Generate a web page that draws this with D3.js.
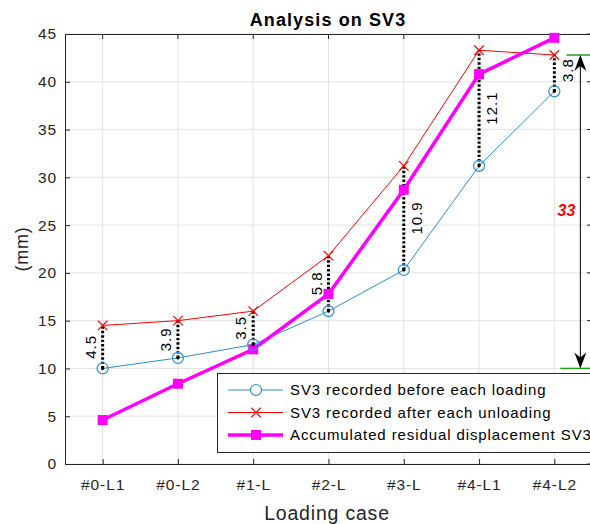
<!DOCTYPE html>
<html>
<head>
<meta charset="utf-8">
<script src="https://cdn.jsdelivr.net/npm/d3@7"></script>
<style>
  body { margin: 0; background: #fff; }
  svg text { font-family: "Liberation Sans", Arial, Helvetica, sans-serif; }
</style>
</head>
<body>
<svg id="chart" width="590" height="524"></svg>
<script>
// chart data
const categories = ["#0-L1", "#0-L2", "#1-L", "#2-L", "#3-L", "#4-L1", "#4-L2"];
const beforeLoading = [10.0, 11.1, 12.5, 16.0, 20.3, 31.2, 39.0];
const afterUnloading = [14.5, 15.0, 16.0, 21.8, 31.2, 43.3, 42.8];
const accumulated = [4.6, 8.4, 12.0, 17.8, 28.7, 40.8, 44.6];
const diffLabels = ["4.5", "3.9", "3.5", "5.8", "10.9", "12.1", "3.8"];
const yTicks = [0, 5, 10, 15, 20, 25, 30, 35, 40, 45];
const seriesNames = [
  "SV3 recorded before each loading",
  "SV3 recorded after each unloading",
  "Accumulated residual displacement SV3"
];
const spanFrom = 10, spanTo = 42.8, spanLabel = "33";

const svg = d3.select("#chart");
const margin = { top: 34, right: -2, bottom: 60, left: 65 };
const width = 590 - margin.left - margin.right;
const height = 524 - margin.top - margin.bottom;
const axisColor = "#262626";

const g = svg.append("g")
  .attr("transform", "translate(" + margin.left + "," + margin.top + ")");

const x = d3.scalePoint().domain(categories).range([0, width]).padding(0.5);
const y = d3.scaleLinear().domain([0, 45]).range([height, 0]);

// grid
g.append("g").selectAll("line").data(yTicks).enter().append("line")
  .attr("x1", 0).attr("x2", width)
  .attr("y1", d => y(d)).attr("y2", d => y(d))
  .attr("stroke", "#e3e3e3").attr("stroke-width", 1);
g.append("g").selectAll("line").data(categories).enter().append("line")
  .attr("x1", d => x(d)).attr("x2", d => x(d))
  .attr("y1", 0).attr("y2", height)
  .attr("stroke", "#e3e3e3").attr("stroke-width", 1);

// axes
const xAxis = g.append("g")
  .attr("transform", "translate(0," + height + ")")
  .call(d3.axisBottom(x).tickSizeInner(-5).tickSizeOuter(0).tickPadding(15));
const yAxis = g.append("g")
  .call(d3.axisLeft(y).tickValues(yTicks).tickSizeInner(-5).tickSizeOuter(0).tickPadding(8));
[xAxis, yAxis].forEach(a => {
  a.selectAll("path").attr("stroke", axisColor);
  a.selectAll("line").attr("stroke", axisColor);
  a.selectAll("text").attr("fill", axisColor)
    .style("font-size", "15.5px").style("letter-spacing", "0.9px");
});
// top and right ticks (box)
g.append("line").attr("x1", 0).attr("x2", width).attr("y1", 0.5).attr("y2", 0.5)
  .attr("stroke", axisColor);
g.append("line").attr("x1", width).attr("x2", width).attr("y1", 0).attr("y2", height)
  .attr("stroke", axisColor);
g.append("g").selectAll("line").data(categories).enter().append("line")
  .attr("x1", d => x(d)).attr("x2", d => x(d)).attr("y1", 0).attr("y2", 5)
  .attr("stroke", axisColor);
g.append("g").selectAll("line").data(yTicks).enter().append("line")
  .attr("x1", width - 5).attr("x2", width).attr("y1", d => y(d)).attr("y2", d => y(d))
  .attr("stroke", axisColor);

// title and axis labels
svg.append("text").attr("x", 328).attr("y", 26).attr("text-anchor", "middle")
  .style("font-size", "18px").style("font-weight", "bold").style("letter-spacing", "1.1px")
  .attr("fill", "#000").text("Analysis on SV3");
svg.append("text").attr("x", 327).attr("y", 520).attr("text-anchor", "middle")
  .style("font-size", "19.5px").style("letter-spacing", "0.8px")
  .attr("fill", axisColor).text("Loading case");
svg.append("text").attr("transform", "translate(28," + (margin.top + y(22.5)) + ") rotate(-90)")
  .attr("text-anchor", "middle").style("font-size", "18px").style("letter-spacing", "0.8px")
  .attr("fill", axisColor).text("(mm)");

// lines
const line = d3.line().x((d, i) => x(categories[i])).y(d => y(d));

g.append("path").datum(afterUnloading).attr("d", line)
  .attr("fill", "none").attr("stroke", "#ff0000").attr("stroke-width", 1);
g.append("path").datum(beforeLoading).attr("d", line)
  .attr("fill", "none").attr("stroke", "#2b8fd6").attr("stroke-width", 1);
g.append("path").datum(accumulated).attr("d", line)
  .attr("fill", "none").attr("stroke", "#ff00ff").attr("stroke-width", 3.5);

// dotted difference lines
g.append("g").selectAll("line").data(categories).enter().append("line")
  .attr("x1", d => x(d)).attr("x2", d => x(d))
  .attr("y1", (d, i) => y(beforeLoading[i])).attr("y2", (d, i) => y(afterUnloading[i]))
  .attr("stroke", "#000").attr("stroke-width", 3).attr("stroke-dasharray", "2.4,2");

// markers
g.append("g").selectAll("rect").data(accumulated).enter().append("rect")
  .attr("x", (d, i) => x(categories[i]) - 5).attr("y", d => y(d) - 5)
  .attr("width", 10).attr("height", 10).attr("fill", "#ff00ff");
g.append("g").selectAll("circle").data(beforeLoading).enter().append("circle")
  .attr("cx", (d, i) => x(categories[i])).attr("cy", d => y(d)).attr("r", 5.5)
  .attr("fill", "none").attr("stroke", "#2b8fd6").attr("stroke-width", 1.2);
g.append("g").selectAll("circle").data(beforeLoading).enter().append("circle")
  .attr("cx", (d, i) => x(categories[i])).attr("cy", d => y(d)).attr("r", 1.6)
  .attr("fill", "#000");
const cross = d3.symbol().type(d3.symbolX).size(60);
g.append("g").selectAll("path").data(afterUnloading).enter().append("path")
  .attr("d", cross)
  .attr("transform", (d, i) => "translate(" + x(categories[i]) + "," + y(d) + ")")
  .attr("fill", "none").attr("stroke", "#ff0000").attr("stroke-width", 1.2);

// difference labels
g.append("g").selectAll("text").data(diffLabels).enter().append("text")
  .attr("transform", (d, i) => {
    const cx = x(categories[i]) + (i < 4 ? -12 : 13);
    const cy = y((beforeLoading[i] + afterUnloading[i]) / 2) - (i === 6 ? 3 : 0);
    return "translate(" + cx + "," + cy + ") rotate(-90)";
  })
  .attr("text-anchor", "middle").attr("dy", "0.35em")
  .style("font-size", "15px").style("letter-spacing", "1px")
  .attr("fill", "#000").text(d => d);

// span arrow
const ax = x(categories[6]) + 26;
g.append("line").attr("x1", x(categories[6]) + 12).attr("x2", width)
  .attr("y1", y(spanTo)).attr("y2", y(spanTo)).attr("stroke", "#1fa01f").attr("stroke-width", 1.5);
g.append("line").attr("x1", x(categories[6]) + 6).attr("x2", width)
  .attr("y1", y(spanFrom)).attr("y2", y(spanFrom)).attr("stroke", "#1fa01f").attr("stroke-width", 1.5);
g.append("line").attr("x1", ax).attr("x2", ax)
  .attr("y1", y(spanTo) + 6).attr("y2", y(spanFrom) - 6)
  .attr("stroke", "#000").attr("stroke-width", 1);
const head = "M0,0 L-6,16 L0,11 L6,16 Z";
g.append("path").attr("d", head)
  .attr("transform", "translate(" + ax + "," + y(spanTo) + ")").attr("fill", "#000");
g.append("path").attr("d", head)
  .attr("transform", "translate(" + ax + "," + y(spanFrom) + ") rotate(180)").attr("fill", "#000");
g.append("text").attr("x", ax - 5).attr("y", y((spanFrom + spanTo) / 2) - 1)
  .attr("text-anchor", "end").attr("dy", "0.35em")
  .style("font-size", "16px").style("font-weight", "bold").style("font-style", "italic")
  .attr("fill", "#ff0000").text(spanLabel);

// legend
const lg = svg.append("g").attr("transform", "translate(217,373)");
lg.append("rect").attr("x", 0.5).attr("y", 0.5).attr("width", 400).attr("height", 79)
  .attr("fill", "#fff").attr("stroke", axisColor).attr("stroke-width", 1);
const legendRows = [
  { color: "#2b8fd6", w: 1, marker: "circle" },
  { color: "#ff0000", w: 1, marker: "x" },
  { color: "#ff00ff", w: 3.5, marker: "square" }
];
legendRows.forEach((r, i) => {
  const ly = 17 + i * 22.5;
  lg.append("line").attr("x1", 11).attr("x2", 66).attr("y1", ly).attr("y2", ly)
    .attr("stroke", r.color).attr("stroke-width", r.w);
  if (r.marker === "circle") {
    lg.append("circle").attr("cx", 39).attr("cy", ly).attr("r", 5.5)
      .attr("fill", "#fff").attr("stroke", r.color).attr("stroke-width", 1.2);
  } else if (r.marker === "x") {
    lg.append("path").attr("d", cross).attr("transform", "translate(39," + ly + ")")
      .attr("fill", "none").attr("stroke", r.color).attr("stroke-width", 1.2);
  } else {
    lg.append("rect").attr("x", 34).attr("y", ly - 5).attr("width", 10).attr("height", 10)
      .attr("fill", r.color);
  }
  lg.append("text").attr("x", 73).attr("y", ly).attr("dy", "0.35em")
    .style("font-size", "15px").style("letter-spacing", "0.9px")
    .attr("fill", "#000").text(seriesNames[i]);
});
</script>
</body>
</html>
